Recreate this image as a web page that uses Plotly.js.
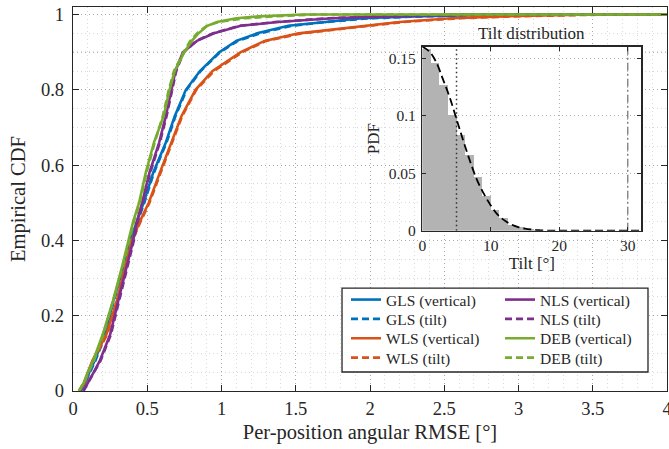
<!DOCTYPE html>
<html>
<head>
<meta charset="utf-8">
<script src="https://cdn.plot.ly/plotly-3.0.1.min.js"></script>
<style>html,body{margin:0;padding:0;background:#fff;}#chart{width:669px;height:449px;}</style>
</head>
<body>
<div id="chart"></div>
<script>
// ---- Empirical CDF data (x = RMSE in degrees at each CDF level) ----
const cdfLevels = [0, 0.02, 0.05, 0.08, 0.15, 0.24, 0.33, 0.40, 0.45, 0.50, 0.58, 0.66, 0.73, 0.80, 0.85, 0.90, 0.93, 0.95, 0.97, 0.98, 0.99, 0.995, 1.0, 1.0];
const glsVertical = [0.05, 0.08, 0.11, 0.145, 0.215, 0.272, 0.34, 0.385, 0.43, 0.475, 0.54, 0.625, 0.685, 0.76, 0.855, 0.985, 1.10, 1.24, 1.45, 1.68, 1.95, 2.3, 2.9, 4.0];
const glsTilt     = [0.05, 0.08, 0.115, 0.15, 0.22, 0.275, 0.345, 0.39, 0.435, 0.48, 0.545, 0.63, 0.69, 0.765, 0.86, 0.99, 1.11, 1.26, 1.47, 1.70, 2.0, 2.35, 3.0, 4.0];
const wlsVertical = [0.04, 0.075, 0.10, 0.13, 0.225, 0.295, 0.352, 0.397, 0.45, 0.51, 0.585, 0.665, 0.73, 0.825, 0.94, 1.13, 1.29, 1.52, 1.95, 2.2, 2.55, 2.9, 3.5, 4.0];
const wlsTilt     = [0.04, 0.075, 0.105, 0.135, 0.23, 0.30, 0.355, 0.40, 0.455, 0.515, 0.59, 0.67, 0.735, 0.83, 0.95, 1.14, 1.30, 1.54, 1.97, 2.22, 2.6, 2.95, 3.6, 4.0];
const nlsVertical = [0.07, 0.10, 0.14, 0.18, 0.25, 0.305, 0.36, 0.405, 0.43, 0.465, 0.515, 0.58, 0.625, 0.66, 0.69, 0.74, 0.835, 0.95, 1.13, 1.38, 1.75, 2.1, 2.7, 4.0];
const nlsTilt     = [0.07, 0.10, 0.145, 0.185, 0.255, 0.31, 0.365, 0.41, 0.435, 0.47, 0.52, 0.585, 0.63, 0.665, 0.695, 0.745, 0.83, 0.94, 1.12, 1.36, 1.72, 2.05, 2.6, 4.0];
const debVertical = [0.04, 0.07, 0.10, 0.135, 0.20, 0.27, 0.33, 0.375, 0.405, 0.445, 0.49, 0.545, 0.61, 0.65, 0.685, 0.75, 0.80, 0.845, 0.905, 0.97, 1.10, 1.25, 1.55, 4.0];
const debTilt     = [0.04, 0.07, 0.105, 0.14, 0.205, 0.27, 0.335, 0.38, 0.41, 0.45, 0.495, 0.55, 0.605, 0.645, 0.68, 0.745, 0.79, 0.835, 0.90, 0.98, 1.15, 1.35, 1.62, 4.0];
const refLevelX = [0, 4];
const refLevelY = [0.9, 0.9];

const seriesNames = ["GLS (vertical)", "GLS (tilt)", "WLS (vertical)", "WLS (tilt)", "NLS (vertical)", "NLS (tilt)", "DEB (vertical)", "DEB (tilt)"];

// ---- Inset: tilt distribution ----
const tiltBinCenters = [0.625, 1.875, 3.125, 4.375, 5.625, 6.875, 8.125, 9.375, 10.625, 11.875, 13.125, 14.375, 15.625, 16.875];
const tiltBinHeights = [0.158, 0.146, 0.127, 0.101, 0.083, 0.066, 0.047, 0.030, 0.018, 0.011, 0.005, 0.003, 0.0012, 0.0005];
const tiltGrid = [0, 1, 2, 3, 4, 5, 6, 7, 8, 9, 10, 11, 12, 13, 14, 15, 16, 17, 18, 19, 20, 25, 32];
const tiltPdf  = [0.160, 0.156, 0.147, 0.132, 0.116, 0.097, 0.078, 0.060, 0.044, 0.032, 0.022, 0.014, 0.009, 0.0054, 0.0032, 0.0018, 0.001, 0.0005, 0.0002, 0.0001, 0, 0, 0];
const tiltMeanX = [5, 5];
const tiltMaxX = [30, 30];
const insetSpanY = [0, 0.16];

const F = "Liberation Serif";
const TXT = "#262626";
const C = {blue: "#0072BD", orange: "#D95319", purple: "#7E2F8E", green: "#77AC30"};

function cdfTrace(xs, name, color, dashed, legendId) {
  return {
    x: xs, y: cdfLevels, type: "scatter", mode: "lines", name: name,
    line: {color: color, width: 2.6, dash: dashed ? "7px,4px" : "solid"},
    legend: legendId, xaxis: "x", yaxis: "y", hoverinfo: "skip"
  };
}

const traces = [
  {x: refLevelX, y: refLevelY, type: "scatter", mode: "lines", showlegend: false,
   line: {color: "#a0a0a0", width: 1, dash: "1px,3px"}, hoverinfo: "skip"},
  cdfTrace(glsVertical, seriesNames[0], C.blue, false, "legend"),
  cdfTrace(glsTilt, seriesNames[1], C.blue, true, "legend2"),
  cdfTrace(wlsVertical, seriesNames[2], C.orange, false, "legend3"),
  cdfTrace(wlsTilt, seriesNames[3], C.orange, true, "legend4"),
  cdfTrace(nlsVertical, seriesNames[4], C.purple, false, "legend5"),
  cdfTrace(nlsTilt, seriesNames[5], C.purple, true, "legend6"),
  cdfTrace(debVertical, seriesNames[6], C.green, false, "legend7"),
  cdfTrace(debTilt, seriesNames[7], C.green, true, "legend8"),
  // inset
  {x: tiltBinCenters, y: tiltBinHeights, type: "bar", width: 1.25, xaxis: "x2", yaxis: "y2",
   marker: {color: "#b3b3b3", line: {width: 0}}, showlegend: false, hoverinfo: "skip"},
  {x: tiltMeanX, y: insetSpanY, type: "scatter", mode: "lines", xaxis: "x2", yaxis: "y2",
   line: {color: "#333333", width: 1.5, dash: "1.5px,3px"}, showlegend: false, hoverinfo: "skip"},
  {x: tiltMaxX, y: insetSpanY, type: "scatter", mode: "lines", xaxis: "x2", yaxis: "y2",
   line: {color: "#7a7a7a", width: 1.3, dash: "8px,3px,2px,3px"}, showlegend: false, hoverinfo: "skip"},
  {x: tiltGrid, y: tiltPdf, type: "scatter", mode: "lines", xaxis: "x2", yaxis: "y2",
   line: {color: "#000000", width: 1.8, dash: "8px,4px", shape: "spline"}, showlegend: false, hoverinfo: "skip"}
];

const majorGrid = "#a8a8a8";
const minorGrid = "#dadada";

function legendAt(x, y) {
  return {
    x: x, y: y, xanchor: "left", yanchor: "middle",
    bgcolor: "rgba(0,0,0,0)", borderwidth: 0, tracegroupgap: 0,
    font: {family: F, size: 15.5, color: TXT}, itemwidth: 30
  };
}
const colL = 0.4596, colR = 0.7189;
const rowY = [0.237, 0.1867, 0.1362, 0.0859];

const layout = {
  width: 669, height: 449,
  margin: {l: 73, r: 2, t: 7, b: 58, autoexpand: false},
  paper_bgcolor: "#ffffff", plot_bgcolor: "#ffffff",
  font: {family: F, color: TXT, size: 18},
  showlegend: true,
  xaxis: {
    domain: [0, 1], range: [0, 4], tick0: 0, dtick: 0.5,
    ticks: "inside", ticklen: 6, tickwidth: 1, tickcolor: TXT,
    showline: true, linecolor: TXT, linewidth: 1.3, mirror: "ticks",
    showgrid: true, gridcolor: majorGrid, griddash: "1px,3px", gridwidth: 1,
    minor: {dtick: 0.1, showgrid: true, gridcolor: minorGrid, griddash: "1px,3px", gridwidth: 1, ticks: ""},
    zeroline: false, tickfont: {family: F, size: 18.5, color: TXT}, ticklabeloverflow: "allow",
    title: {text: "Per-position angular RMSE [°]", font: {family: F, size: 20.5, color: TXT}, standoff: 7}
  },
  yaxis: {
    domain: [0, 1], range: [0, 1.02], tick0: 0, dtick: 0.2,
    ticks: "inside", ticklen: 6, tickwidth: 1, tickcolor: TXT,
    showline: true, linecolor: TXT, linewidth: 1.3, mirror: "ticks",
    showgrid: true, gridcolor: majorGrid, griddash: "1px,3px", gridwidth: 1,
    minor: {dtick: 0.05, showgrid: true, gridcolor: minorGrid, griddash: "1px,3px", gridwidth: 1, ticks: ""},
    zeroline: false, tickfont: {family: F, size: 18.5, color: TXT}, ticklabelstandoff: 4,
    title: {text: "Empirical CDF", font: {family: F, size: 20.5, color: TXT}, standoff: 9}
  },
  xaxis2: {
    domain: [0.588, 0.957], anchor: "y2", range: [0, 32], tick0: 0, dtick: 10,
    ticks: "inside", ticklen: 4, tickwidth: 1, tickcolor: TXT,
    showline: true, linecolor: TXT, linewidth: 1.3, mirror: "ticks",
    showgrid: true, gridcolor: "#b0b0b0", griddash: "1px,3px", gridwidth: 1,
    zeroline: false, tickfont: {family: F, size: 15.5, color: TXT},
    title: {text: "Tilt [°]", font: {family: F, size: 17, color: TXT}, standoff: 4}
  },
  yaxis2: {
    domain: [0.4174, 0.8966], anchor: "x2", range: [0, 0.16], tick0: 0, dtick: 0.05,
    ticks: "inside", ticklen: 4, tickwidth: 1, tickcolor: TXT,
    showline: true, linecolor: TXT, linewidth: 1.3, mirror: "ticks",
    showgrid: true, gridcolor: "#b0b0b0", griddash: "1px,3px", gridwidth: 1,
    zeroline: false, tickfont: {family: F, size: 15.5, color: TXT}, ticklabelstandoff: 2,
    title: {text: "PDF", font: {family: F, size: 17, color: TXT}, standoff: 4}
  },
  bargap: 0,
  legend: legendAt(colL, rowY[0]),
  legend2: legendAt(colL, rowY[1]),
  legend3: legendAt(colL, rowY[2]),
  legend4: legendAt(colL, rowY[3]),
  legend5: legendAt(colR, rowY[0]),
  legend6: legendAt(colR, rowY[1]),
  legend7: legendAt(colR, rowY[2]),
  legend8: legendAt(colR, rowY[3]),
  shapes: [
    {type: "rect", xref: "paper", yref: "paper", x0: 0.4529, x1: 0.968, y0: 0.0495, y1: 0.268,
     line: {color: TXT, width: 1.3}, fillcolor: "#ffffff", layer: "above"}
  ],
  annotations: [
    {text: "Tilt distribution", xref: "paper", yref: "paper", x: 0.7725, y: 0.932,
     xanchor: "center", yanchor: "middle", showarrow: false,
     font: {family: F, size: 17, color: TXT}}
  ]
};

Plotly.newPlot("chart", traces, layout, {displayModeBar: false, staticPlot: true});
</script>
</body>
</html>
